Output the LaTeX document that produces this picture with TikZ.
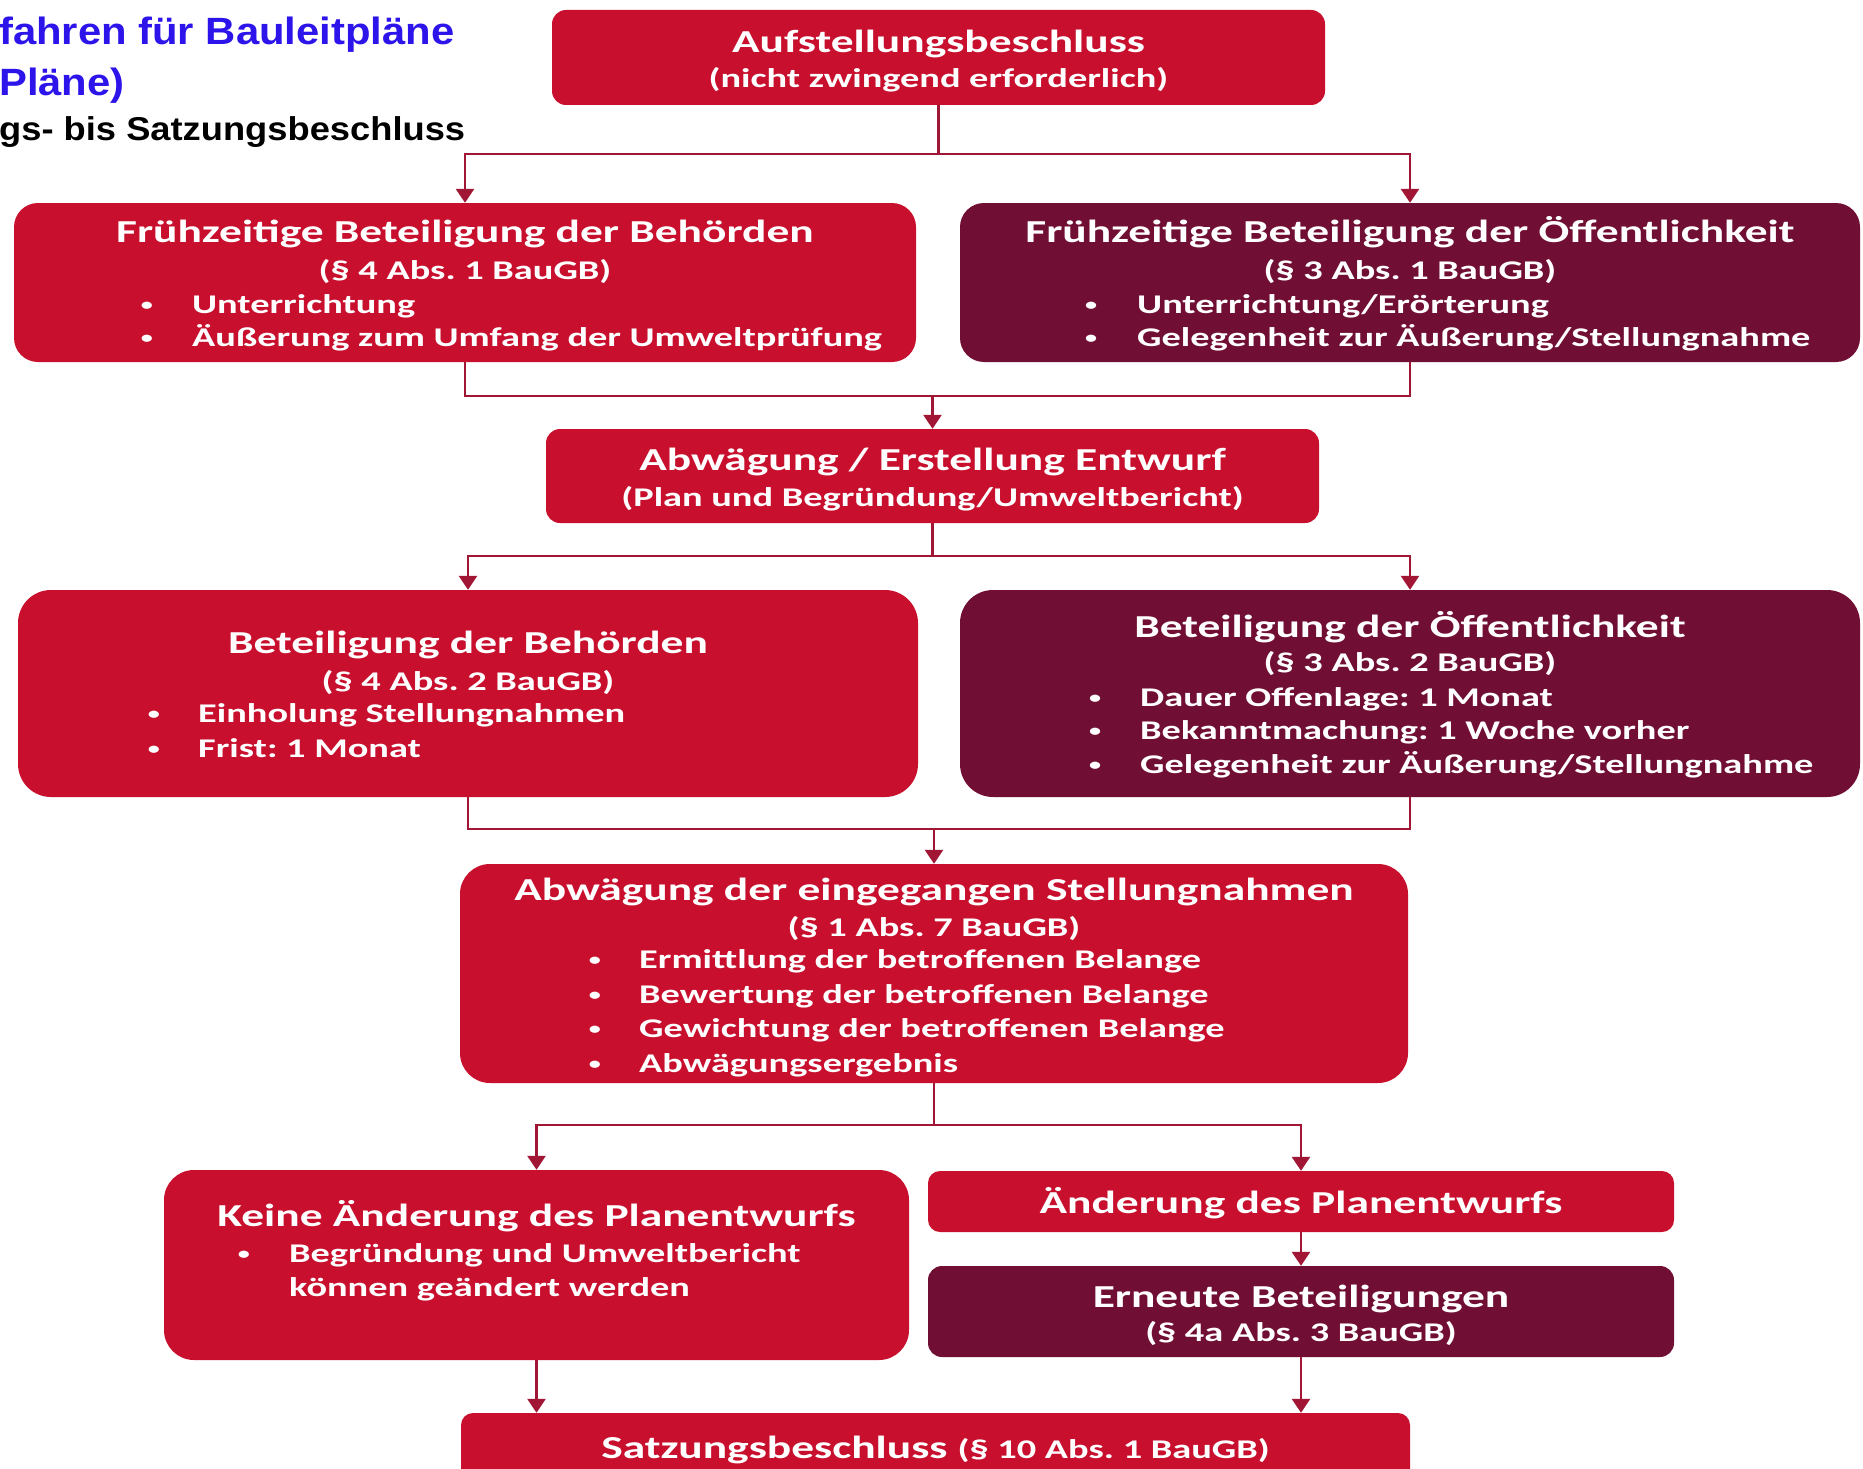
\documentclass[tikz,border=0pt]{standalone}
\usepackage{fontspec}
\setmainfont{Carlito}[FakeStretch=1.42]
\newfontfamily\headfont{Liberation Sans}[FakeStretch=1.1]
\usetikzlibrary{arrows.meta}
\definecolor{crimson}{RGB}{200,16,46}
\definecolor{wine}{RGB}{112,14,52}
\definecolor{linkred}{RGB}{160,22,52}
\definecolor{headblue}{RGB}{45,20,235}

\begin{document}
\frenchspacing
\begin{tikzpicture}[x=1pt,y=-1pt,
  redbox/.style={fill=crimson, rounded corners=#1, inner sep=0, draw=none},
  winebox/.style={fill=wine, rounded corners=#1, inner sep=0, draw=none},
  ttl/.style={font=\bfseries\fontsize{32}{38}\selectfont, text=white, inner sep=0, anchor=base},
  bdy/.style={font=\bfseries\fontsize{27}{33}\selectfont, text=white, inner sep=0, anchor=base},
  itm/.style={bdy, anchor=base west},
  dot/.style={font=\bfseries\fontsize{17}{20}\selectfont, text=white, inner sep=0, anchor=base, yshift=3pt},
  hdA/.style={font=\headfont\bfseries\fontsize{38}{44}\selectfont, text=headblue, inner sep=0, anchor=base west},
  hdB/.style={font=\headfont\bfseries\fontsize{33}{38}\selectfont, text=black, inner sep=0, anchor=base west},
  link/.style={draw=linkred, line width=2.6pt},
  arr/.style={link, -{Triangle[width=18pt,length=14pt]}}
]
% page
\fill[white] (0,0) rectangle (1863,1469);
\useasboundingbox (0,0) rectangle (1863,1469);

% heading
\node[hdA] (h1) at (-1,45) {fahren für Bauleitpläne};
\node[hdA] (h2) at (-1,96) {Pläne)};
\node[hdB] (h3) at (-1,141) {gs- bis Satzungsbeschluss};

% boxes
\node[redbox=14pt, minimum width=773pt, minimum height=95pt] (A) at (938.5,57.5) {};
\node[redbox=24pt, minimum width=902pt, minimum height=159pt] (B1) at (465,282.5) {};
\node[winebox=24pt, minimum width=900pt, minimum height=159pt] (B2) at (1410,282.5) {};
\node[redbox=14pt, minimum width=773pt, minimum height=94pt] (C) at (932.5,476) {};
\node[redbox=33pt, minimum width=900pt, minimum height=207pt] (D1) at (468,693.5) {};
\node[winebox=33pt, minimum width=900pt, minimum height=207pt] (D2) at (1410,693.5) {};
\node[redbox=30pt, minimum width=948pt, minimum height=219pt] (E) at (934,973.5) {};
\node[redbox=30pt, minimum width=745pt, minimum height=190pt] (F1) at (536.5,1265) {};
\node[redbox=12pt, minimum width=746pt, minimum height=61pt] (F2) at (1301,1201.5) {};
\node[winebox=14pt, minimum width=746pt, minimum height=91pt] (F3) at (1301,1311.5) {};
\node[redbox=12pt, minimum width=949pt, minimum height=90pt] (G) at (935.5,1458) {};

% texts
\node[ttl] (At) at (938.5,53) {Aufstellungsbeschluss};
\node[bdy] (As) at (938.5,88) {(nicht zwingend erforderlich)};

\node[ttl] (B1t) at (465,242) {Frühzeitige Beteiligung der Behörden};
\node[bdy] (B1s) at (465,279) {(§ 4 Abs. 1 BauGB)};
\node[dot] (B1d1) at (147,313) {•};
\node[itm] (B1i1) at (192,313) {Unterrichtung};
\node[dot] (B1d2) at (147,346) {•};
\node[itm] (B1i2) at (192,346) {Äußerung zum Umfang der Umweltprüfung};

\node[ttl] (B2t) at (1410,242) {Frühzeitige Beteiligung der Öffentlichkeit};
\node[bdy] (B2s) at (1410,279) {(§ 3 Abs. 1 BauGB)};
\node[dot] (B2d1) at (1091,313) {•};
\node[itm] (B2i1) at (1137,313) {Unterrichtung/Erörterung};
\node[dot] (B2d2) at (1091,346) {•};
\node[itm] (B2i2) at (1137,346) {Gelegenheit zur Äußerung/Stellungnahme};

\node[ttl] (Ct) at (932.5,470) {Abwägung / Erstellung Entwurf};
\node[bdy] (Cs) at (932.5,506) {(Plan und Begründung/Umweltbericht)};

\node[ttl] (D1t) at (468,653) {Beteiligung der Behörden};
\node[bdy] (D1s) at (468,690) {(§ 4 Abs. 2 BauGB)};
\node[dot] (D1d1) at (154,722) {•};
\node[itm] (D1i1) at (198,722) {Einholung Stellungnahmen};
\node[dot] (D1d2) at (154,757) {•};
\node[itm] (D1i2) at (198,757) {Frist: 1 Monat};

\node[ttl] (D2t) at (1410,637) {Beteiligung der Öffentlichkeit};
\node[bdy] (D2s) at (1410,671) {(§ 3 Abs. 2 BauGB)};
\node[dot] (D2d1) at (1095,706) {•};
\node[itm] (D2i1) at (1140,706) {Dauer Offenlage: 1 Monat};
\node[dot] (D2d2) at (1095,739) {•};
\node[itm] (D2i2) at (1140,739) {Bekanntmachung: 1 Woche vorher};
\node[dot] (D2d3) at (1095,773) {•};
\node[itm] (D2i3) at (1140,773) {Gelegenheit zur Äußerung/Stellungnahme};

\node[ttl] (Et) at (934,900) {Abwägung der eingegangen Stellungnahmen};
\node[bdy] (Es) at (934,936) {(§ 1 Abs. 7 BauGB)};
\node[dot] (Ed1) at (595,968) {•};
\node[itm] (Ei1) at (639,968) {Ermittlung der betroffenen Belange};
\node[dot] (Ed2) at (595,1003) {•};
\node[itm] (Ei2) at (639,1003) {Bewertung der betroffenen Belange};
\node[dot] (Ed3) at (595,1037) {•};
\node[itm] (Ei3) at (639,1037) {Gewichtung der betroffenen Belange};
\node[dot] (Ed4) at (595,1072) {•};
\node[itm] (Ei4) at (639,1072) {Abwägungsergebnis};

\node[ttl] (F1t) at (536.5,1226) {Keine Änderung des Planentwurfs};
\node[dot] (F1d1) at (244,1262) {•};
\node[itm] (F1i1) at (289,1262) {Begründung und Umweltbericht};
\node[itm] (F1i2) at (289,1296) {können geändert werden};

\node[ttl] (F2t) at (1301,1213) {Änderung des Planentwurfs};

\node[ttl] (F3t) at (1301,1307) {Erneute Beteiligungen};
\node[bdy] (F3s) at (1301,1341) {(§ 4a Abs. 3 BauGB)};

\node[ttl] (Gt) at (935.5,1458) {Satzungsbeschluss {\fontsize{27}{33}\selectfont(§ 10 Abs. 1 BauGB)}};

% junction points
\coordinate (jA) at (938.5,154);
\coordinate (jB) at (932.5,396);
\coordinate (jC) at (932.5,556);
\coordinate (jD) at (934,829);
\coordinate (jE) at (934,1125);

% connectors
\draw[link] (A) -- (jA);
\draw[arr] (jA) -| (B1);
\draw[arr] (jA) -| (B2);

\draw[link] (B1) |- (jB);
\draw[link] (B2) |- (jB);
\draw[arr] (jB) -- (C);

\draw[link] (C) -- (jC);
\draw[arr] (jC) -| (D1);
\draw[arr] (jC) -| (D2);

\draw[link] (D1) |- (jD);
\draw[link] (D2) |- (jD);
\draw[arr] (jD) -- (E);

\draw[link] (E) -- (jE);
\draw[arr] (jE) -| (F1);
\draw[arr] (jE) -| (F2);

\draw[arr] (F2) -- (F3);
\draw[arr] (F1.south) -- (F1.south |- G.north);
\draw[arr] (F3.south) -- (F3.south |- G.north);
\end{tikzpicture}
\end{document}
